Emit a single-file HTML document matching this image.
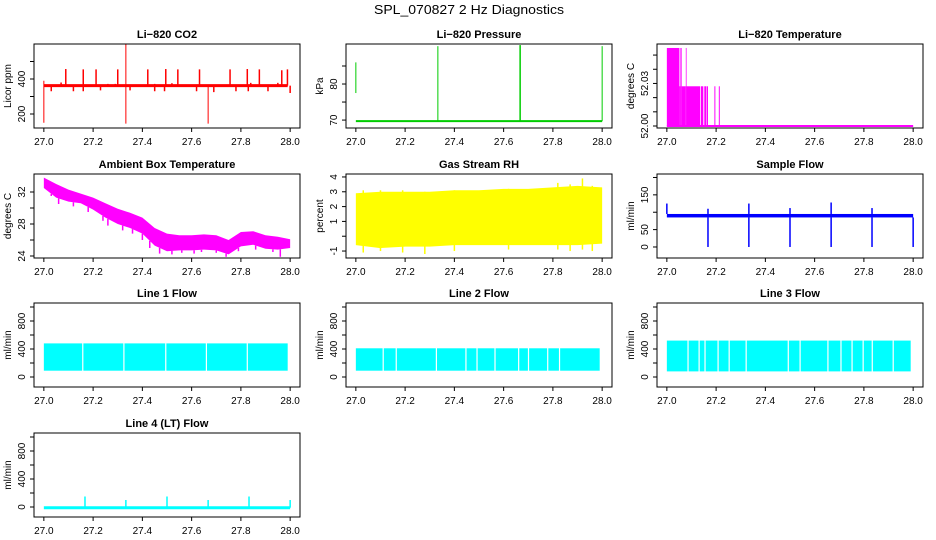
<!DOCTYPE html>
<html><head><meta charset="utf-8">
<style>
html,body{margin:0;padding:0;background:#fff;}
svg{display:block;font-family:"Liberation Sans",Arial,sans-serif;}
</style></head>
<body>
<svg id="chart" width="936" height="540" viewBox="0 0 936 540" xmlns="http://www.w3.org/2000/svg">
<rect x="0" y="0" width="936" height="540" fill="#fff"/>
<text x="469" y="14" font-size="13" text-anchor="middle" textLength="190" lengthAdjust="spacingAndGlyphs">SPL_070827  2 Hz Diagnostics</text>
</svg>
<script>
// ---------- data ----------
const xTicks = [27.0, 27.2, 27.4, 27.6, 27.8, 28.0];
const xTickLabels = ["27.0", "27.2", "27.4", "27.6", "27.8", "28.0"];

// CO2
const co2Baseline = 362;
const co2UpX = [27.089, 27.160, 27.212, 27.300, 27.422, 27.495, 27.544, 27.632, 27.756, 27.826, 27.875, 27.966, 27.989];
const co2UpV = [457, 455, 455, 455, 455, 457, 455, 455, 455, 457, 455, 450, 455];
const co2DownX = [27.03, 27.12, 27.16, 27.23, 27.35, 27.45, 27.49, 27.62, 27.69, 27.78, 27.83, 27.91, 28.0];
const co2DownV = [330, 330, 330, 335, 335, 330, 330, 330, 325, 330, 330, 330, 320];
const co2SmallX = [27.07, 27.26, 27.29, 27.45, 27.52, 27.84, 27.95];
const co2SmallV = [380, 372, 372, 372, 376, 378, 378];
const co2BigX = [27.0, 27.333, 27.667];
const co2BigLo = [150, 145, 145];
const co2BigHi = [390, 600, 365];

// Pressure
const presBaseline = 69.7;
const presSpikeX = [27.0, 27.333, 27.667, 28.0];
const presSpikeLo = [77.5, 69.7, 69.7, 69.7];
const presSpikeHi = [86.0, 90.5, 90.8, 90.5];

// Li-820 temperature
const tempStart = [27.000, 27.051, 27.055, 27.060, 27.077, 27.080, 27.138, 27.152, 27.162, 27.193, 27.211];
const tempEnd   = [27.051, 27.055, 27.060, 27.077, 27.080, 27.135, 27.148, 27.160, 27.167, 27.197, 27.215];
const tempTop   = [52.055, 52.028, 52.055, 52.028, 52.055, 52.028, 52.028, 52.028, 52.028, 52.028, 52.028];
const tempBase = 52.0;

// Ambient box temperature
const ambX  = [27.00, 27.05, 27.10, 27.15, 27.20, 27.25, 27.30, 27.35, 27.40, 27.45, 27.50, 27.55, 27.60, 27.65, 27.70, 27.75, 27.80, 27.85, 27.90, 27.95, 28.00];
const ambHi = [33.8, 33.0, 32.3, 31.8, 31.3, 30.6, 29.9, 29.4, 28.8, 27.5, 26.8, 26.6, 26.6, 26.7, 26.6, 26.0, 27.0, 27.1, 26.6, 26.4, 26.1];
const ambLo = [32.5, 31.3, 30.8, 30.6, 29.8, 28.8, 28.0, 27.5, 26.8, 25.3, 24.6, 24.7, 24.7, 24.8, 24.7, 24.2, 25.2, 25.4, 24.9, 24.8, 25.0];
const ambSpikeX = [27.03, 27.06, 27.12, 27.18, 27.24, 27.26, 27.32, 27.36, 27.40, 27.43, 27.47, 27.52, 27.56, 27.61, 27.64, 27.70, 27.74, 27.79, 27.86, 27.93, 27.96];
const ambSpikeV = [31.5, 30.5, 30.2, 29.5, 28.4, 27.8, 27.2, 26.8, 26.0, 25.0, 24.3, 24.2, 24.4, 24.3, 24.5, 24.4, 23.9, 24.6, 24.8, 24.5, 23.9];

// Gas stream RH
const rhX  = [27.0, 27.1, 27.2, 27.3, 27.4, 27.5, 27.6, 27.7, 27.8, 27.9, 28.0];
const rhHi = [2.9, 3.0, 3.0, 3.0, 3.1, 3.1, 3.2, 3.2, 3.3, 3.4, 3.3];
const rhLo = [-0.6, -0.8, -0.7, -0.7, -0.6, -0.6, -0.6, -0.6, -0.6, -0.6, -0.5];
const rhSpikeX = [27.03, 27.10, 27.19, 27.28, 27.40, 27.62, 27.82, 27.87, 27.92, 27.96];
const rhSpikeHi = [3.1, 3.1, 3.1, 3.0, 3.1, 3.2, 3.6, 3.5, 3.9, 3.4];
const rhSpikeLo = [-1.1, -1.0, -1.1, -1.2, -1.0, -0.9, -0.9, -1.0, -0.9, -1.0];

// Sample flow
const flowBaseLo = 85, flowBaseHi = 95;
const flowDipX = [27.167, 27.333, 27.5, 27.667, 27.833, 28.0];
const flowSpikeX = [27.0, 27.167, 27.333, 27.5, 27.667, 27.833];
const flowSpikeV = [125, 110, 125, 112, 128, 112];

// Line flows
const line1Lo = 90, line1Hi = 480;
const line1Gaps = [27.158, 27.325, 27.495, 27.66, 27.826];
const line2Lo = 90, line2Hi = 410;
const line2Gaps = [27.111, 27.164, 27.327, 27.447, 27.492, 27.565, 27.661, 27.701, 27.779, 27.827];
const line3Lo = 80, line3Hi = 520;
const line3Gaps = [27.086, 27.131, 27.155, 27.208, 27.253, 27.322, 27.493, 27.541, 27.654, 27.707, 27.752, 27.797, 27.834, 27.919];
const line4Base = -10;
const line4SpikeX = [27.167, 27.333, 27.5, 27.667, 27.833, 28.0];
const line4SpikeV = [150, 100, 150, 100, 150, 100];

// ---------- drawing ----------
const NS = "http://www.w3.org/2000/svg";
const svg = document.getElementById("chart");
function mk(tag, attrs, parent) {
  const e = document.createElementNS(NS, tag);
  for (const k in attrs) e.setAttribute(k, attrs[k]);
  (parent || svg).appendChild(e);
  return e;
}
const colL = [34, 346, 657], rowT = [44, 174, 303, 433], W = 266, H = 84;

function panel(col, row, title, ylab, ymin, ymax, yTicks, yLabels, name) {
  const L = colL[col], T = rowT[row];
  const g = mk("g", {});
  
  
  const sx = v => L + W * (v - 26.96) / 1.08;
  const sy = v => T + H - H * (v - ymin) / (ymax - ymin);
  const plot = mk("g", {}, g);
  
  
  const box = mk("rect", {x: L, y: T, width: W, height: H, fill: "none", stroke: "#000", "stroke-width": 1}, g);
  
  
  const t = mk("text", {x: L + W / 2, y: T - 6, "font-size": 11, "font-weight": "bold", "text-anchor": "middle"}, g);
  t.textContent = title;
  
  
  const xa = mk("g", {}, g);
  
  
  xTicks.forEach((v, i) => {
    mk("line", {x1: sx(v), x2: sx(v), y1: T + H, y2: T + H + 4, stroke: "#000"}, xa);
    const lt = mk("text", {x: sx(v), y: T + H + 17, "font-size": 10, "text-anchor": "middle"}, xa);
    lt.textContent = xTickLabels[i];
  });
  const ya = mk("g", {}, g);
  
  
  mk("line", {x1: L, x2: L, y1: sy(yTicks[0]), y2: sy(yTicks[yTicks.length - 1]), stroke: "#000"}, ya);
  yTicks.forEach(v => {
    mk("line", {x1: L - 4, x2: L, y1: sy(v), y2: sy(v), stroke: "#000"}, ya);
  });
  yLabels.forEach(v => {
    const yy = sy(v);
    const lt = mk("text", {x: L - 9, y: yy, "font-size": 10, "text-anchor": "middle", transform: `rotate(-90 ${L - 9} ${yy})`}, ya);
    lt.textContent = String(v);
  });
  const yl = mk("text", {x: L - 23, y: T + H / 2, "font-size": 10, "text-anchor": "middle", transform: `rotate(-90 ${L - 23} ${T + H / 2})`}, g);
  yl.textContent = ylab;
  
  
  return {sx, sy, plot};
}
function vline(p, x, y1, y2, color, w) {
  return mk("line", {x1: p.sx(x), x2: p.sx(x), y1: p.sy(y1), y2: p.sy(y2), stroke: color, "stroke-width": w || 1}, p.plot);
}
function hline(p, x1, x2, y, color, w) {
  return mk("line", {x1: p.sx(x1), x2: p.sx(x2), y1: p.sy(y), y2: p.sy(y), stroke: color, "stroke-width": w || 1}, p.plot);
}
function band(p, xs, hi, lo, color) {
  let pts = xs.map((x, i) => p.sx(x) + "," + p.sy(hi[i]));
  for (let i = xs.length - 1; i >= 0; i--) pts.push(p.sx(xs[i]) + "," + p.sy(lo[i]));
  return mk("polygon", {points: pts.join(" "), fill: color}, p.plot);
}
function rectBand(p, x1, x2, lo, hi, color) {
  return mk("rect", {x: p.sx(x1), y: p.sy(hi), width: p.sx(x2) - p.sx(x1), height: p.sy(lo) - p.sy(hi), fill: color}, p.plot);
}
function interp(xs, ys, x) {
  for (let i = 0; i < xs.length - 1; i++) {
    if (x >= xs[i] && x <= xs[i + 1]) return ys[i] + (ys[i + 1] - ys[i]) * (x - xs[i]) / (xs[i + 1] - xs[i]);
  }
  return ys[ys.length - 1];
}

// CO2
let p = panel(0, 0, "Li\u2212820 CO2", "Licor ppm", 120, 600, [200, 300, 400, 500], [200, 400], "co2");
hline(p, 27.0, 27.99, co2Baseline, "#f00", 3);
co2UpX.forEach((x, i) => vline(p, x, co2Baseline, co2UpV[i], "#f00", 1.5));
co2DownX.forEach((x, i) => vline(p, x, co2Baseline, co2DownV[i], "#f00", 1.5));
co2SmallX.forEach((x, i) => vline(p, x, co2Baseline, co2SmallV[i], "#f00", 1.5));
co2BigX.forEach((x, i) => vline(p, x, co2BigLo[i], co2BigHi[i], "#f00", 1));

// Pressure
p = panel(1, 0, "Li\u2212820 Pressure", "kPa", 67.8, 91.1, [70, 75, 80, 85], [70, 80], "pressure");
hline(p, 27.0, 28.0, presBaseline, "#00cc00", 2);
presSpikeX.forEach((x, i) => vline(p, x, presSpikeLo[i], presSpikeHi[i], "#00cc00", i === 2 ? 1.5 : 1));

// Li-820 Temperature
p = panel(2, 0, "Li\u2212820 Temperature", "degrees C", 51.9986, 52.0578, [52.00, 52.01, 52.02, 52.03, 52.04, 52.05], ["52.00", "52.03"], "li820-temperature");
hline(p, 27.0, 28.0, tempBase, "#f0f", 2);
tempStart.forEach((x, i) => rectBand(p, x, tempEnd[i], tempBase, tempTop[i], "#f0f"));

// Ambient box temperature
p = panel(0, 1, "Ambient Box Temperature", "degrees C", 23.75, 34.25, [24, 26, 28, 30, 32], [24, 28, 32], "ambient-temperature");
band(p, ambX, ambHi, ambLo, "#f0f");
ambSpikeX.forEach((x, i) => vline(p, x, interp(ambX, ambLo, x), ambSpikeV[i], "#f0f", 1.5));

// RH
p = panel(1, 1, "Gas Stream RH", "percent", -1.47, 4.2, [-1, 0, 1, 2, 3, 4], [-1, 1, 2, 3, 4], "gas-stream-rh");
band(p, rhX, rhHi, rhLo, "#ffff00");
rhSpikeX.forEach((x, i) => vline(p, x, rhSpikeLo[i], rhSpikeHi[i], "#ffff00", 1.5));

// Sample flow
p = panel(2, 1, "Sample Flow", "ml/min", -31.7, 210, [0, 50, 100, 150, 200], [0, 50, 150], "sample-flow");
rectBand(p, 27.0, 28.0, flowBaseLo, flowBaseHi, "#0000ff");
flowDipX.forEach(x => vline(p, x, 0, flowBaseLo, "#0000ff", 1.5));
flowSpikeX.forEach((x, i) => vline(p, x, flowBaseHi, flowSpikeV[i], "#0000ff", 1.5));

// Line flows
const lt = [0, 200, 400, 600, 800, 1000], ll = [0, 400, 800];
function lineFlow(col, row, title, name, lo, hi, gaps) {
  const q = panel(col, row, title, "ml/min", -143, 1057, lt, ll, name);
  rectBand(q, 27.0, 27.99, lo, hi, "#00ffff");
  gaps.forEach(x => vline(q, x, lo - 5, hi + 5, "#fff", 1.2));
  return q;
}
lineFlow(0, 2, "Line 1 Flow", "line1-flow", line1Lo, line1Hi, line1Gaps);
lineFlow(1, 2, "Line 2 Flow", "line2-flow", line2Lo, line2Hi, line2Gaps);
lineFlow(2, 2, "Line 3 Flow", "line3-flow", line3Lo, line3Hi, line3Gaps);
p = panel(0, 3, "Line 4 (LT) Flow", "ml/min", -143, 1057, lt, ll, "line4-flow");
hline(p, 27.0, 28.0, line4Base, "#00ffff", 3);
line4SpikeX.forEach((x, i) => vline(p, x, line4Base, line4SpikeV[i], "#00ffff", 1.5));
</script>
</body></html>
